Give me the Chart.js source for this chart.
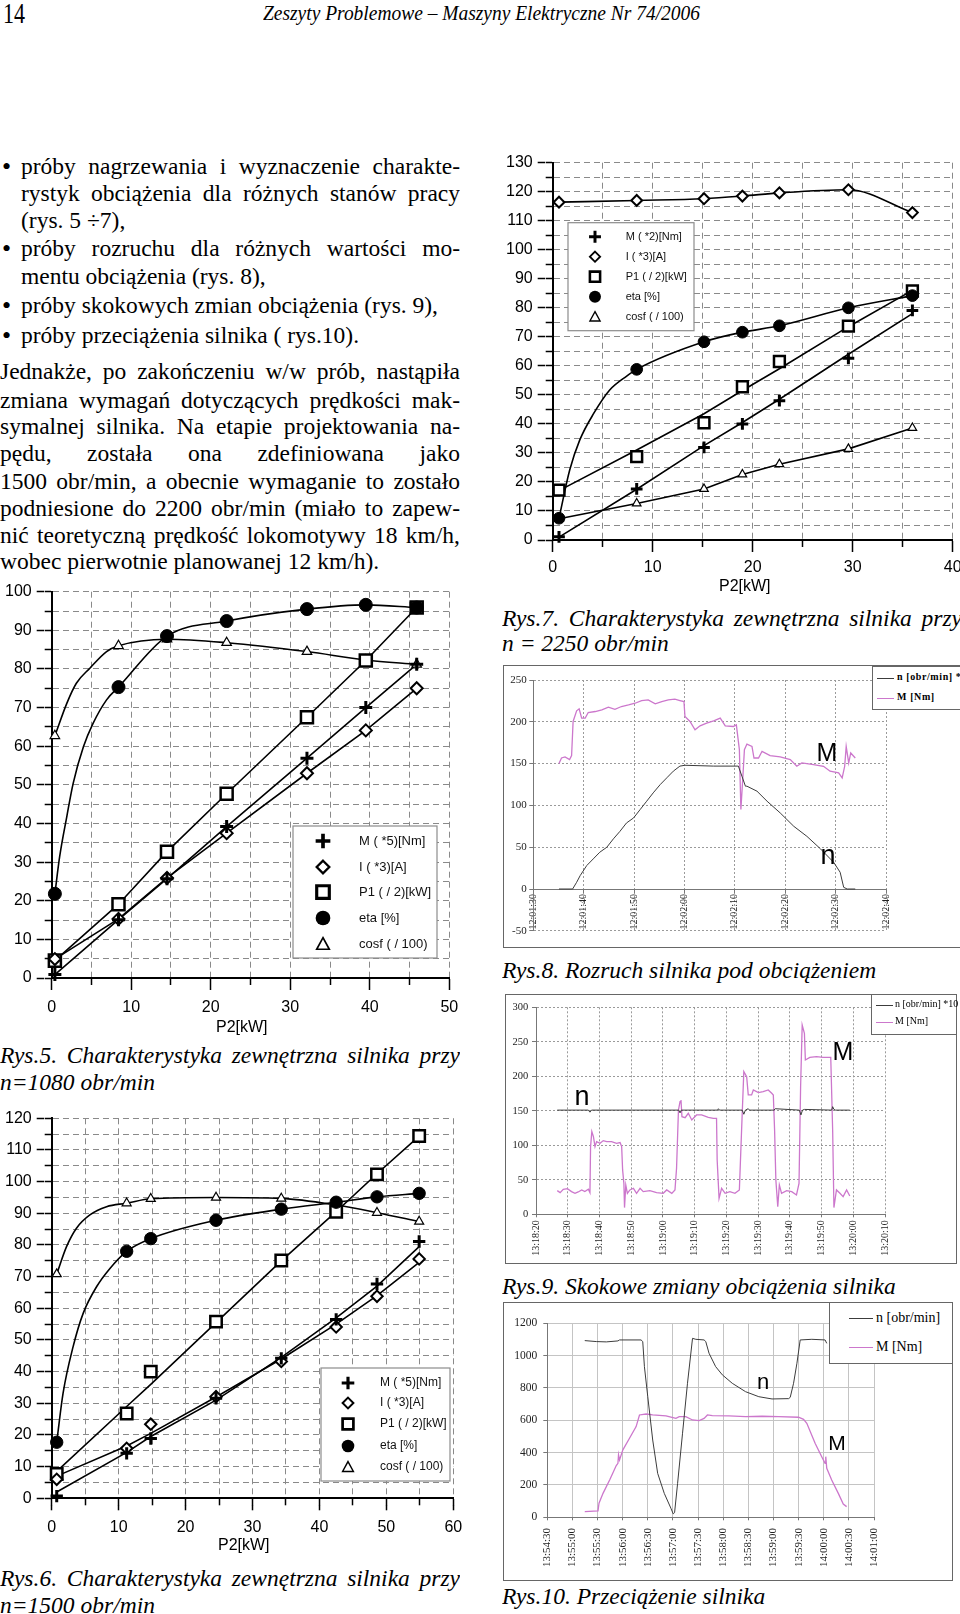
<!DOCTYPE html>
<html lang="pl">
<head>
<meta charset="utf-8">
<title>Charakterystyki silnika – Rys. 5–10</title>
<script src="https://cdn.jsdelivr.net/npm/chart.js@4.4.1/dist/chart.umd.min.js"></script>
<style>
  html, body { margin: 0; padding: 0; background: #fff; }
  body { position: relative; width: 960px; height: 1614px; overflow: hidden;
         font-family: 'Liberation Serif', 'Times New Roman', serif; color: #000; }
  .a { position: absolute; white-space: nowrap; transform-origin: left top; }
  .ln { position: absolute; font-size: 23.5px; line-height: 27px; height: 27px; overflow: hidden; }
  .j { text-align: justify; text-align-last: justify; }
  .cap { font-style: italic; }
  .bul { position: absolute; left: 2px; font-size: 26px; line-height: 27px; }
  .cv { position: absolute; }
  .frame { position: absolute; border: 1.5px solid #666; box-sizing: border-box; }
  .tleg { position: absolute; border: 1.5px solid #666; background: #fff; box-sizing: border-box; }
  .tleg div { position: absolute; white-space: nowrap; line-height: 1; }
  .tleg i { position: absolute; height: 1px; }
  .sans { font-family: 'Liberation Sans', Arial, sans-serif; }
  .mk { position: absolute; font-family: 'Liberation Sans', Arial, sans-serif; transform: translate(-50%, -50%); line-height: 1; }
</style>
</head>
<body>

<div class="a" data-w="22" style="left:3px;top:-3px;font-size:29px">14</div>
<div class="a cap" data-w="437" style="left:263px;top:1px;font-size:21px">Zeszyty Problemowe – Maszyny Elektryczne Nr 74/2006</div>

<!-- lewa kolumna: tekst -->
<div class="bul" style="top:153px">•</div>
<div class="ln j" style="top:153px;left:21px;width:439px">próby nagrzewania i wyznaczenie charakte-</div>
<div class="ln j" style="top:180px;left:21px;width:439px">rystyk obciążenia dla różnych stanów pracy</div>
<div class="ln" style="top:206.5px;left:21px;width:439px">(rys. 5 ÷7),</div>
<div class="bul" style="top:235px">•</div>
<div class="ln j" style="top:235px;left:21px;width:439px">próby rozruchu dla różnych wartości mo-</div>
<div class="ln" style="top:263px;left:21px;width:439px">mentu obciążenia (rys. 8),</div>
<div class="bul" style="top:291.5px">•</div>
<div class="ln" style="top:291.5px;left:21px;width:439px">próby skokowych zmian obciążenia (rys. 9),</div>
<div class="bul" style="top:321.5px">•</div>
<div class="ln" style="top:321.5px;left:21px;width:439px">próby przeciążenia silnika ( rys.10).</div>

<div class="ln j" style="top:358px;left:0;width:460px">Jednakże, po zakończeniu w/w prób, nastąpiła</div>
<div class="ln j" style="top:386.5px;left:0;width:460px">zmiana wymagań dotyczących prędkości mak-</div>
<div class="ln j" style="top:413px;left:0;width:460px">symalnej silnika. Na etapie projektowania na-</div>
<div class="ln j" style="top:440px;left:0;width:460px">pędu, została ona zdefiniowana jako</div>
<div class="ln j" style="top:468px;left:0;width:460px">1500 obr/min, a obecnie wymaganie to zostało</div>
<div class="ln j" style="top:495px;left:0;width:460px">podniesione do 2200 obr/min (miało to zapew-</div>
<div class="ln j" style="top:521.5px;left:0;width:460px">nić teoretyczną prędkość lokomotywy 18 km/h,</div>
<div class="ln" style="top:548px;left:0;width:460px">wobec pierwotnie planowanej 12 km/h).</div>

<!-- Rys.5 -->
<div class="cv" style="left:0;top:575px;width:470px;height:455px"><canvas id="rys5"></canvas></div>
<div class="a sans" style="left:216px;top:1018px;font-size:16px">P2[kW]</div>
<div class="ln cap j" style="top:1041.5px;left:0;width:460px">Rys.5. Charakterystyka zewnętrzna silnika przy</div>
<div class="ln cap" style="top:1069px;left:0;width:460px">n=1080 obr/min</div>

<!-- Rys.6 -->
<div class="cv" style="left:0;top:1100px;width:475px;height:440px"><canvas id="rys6"></canvas></div>
<div class="a sans" style="left:218px;top:1536px;font-size:16px">P2[kW]</div>
<div class="ln cap j" style="top:1564.5px;left:0;width:460px">Rys.6. Charakterystyka zewnętrzna silnika przy</div>
<div class="ln cap" style="top:1591.5px;left:0;width:460px">n=1500 obr/min</div>

<!-- Rys.7 -->
<div class="cv" style="left:500px;top:145px;width:475px;height:435px"><canvas id="rys7"></canvas></div>
<div class="a sans" style="left:719px;top:577px;font-size:16px">P2[kW]</div>
<div class="ln cap j" style="top:604.5px;left:502px;width:460px">Rys.7. Charakterystyka zewnętrzna silnika przy</div>
<div class="ln cap" style="top:629.5px;left:502px;width:460px">n = 2250 obr/min</div>

<!-- Rys.8 -->
<div class="frame" style="left:503px;top:665px;width:470px;height:283px"></div>
<div class="cv" style="left:505px;top:668px;width:400px;height:272px"><canvas id="rys8"></canvas></div>
<div class="tleg" style="left:872px;top:666px;width:100px;height:44px;font-size:10px;font-weight:bold;letter-spacing:0.6px">
  <i style="left:4px;top:11px;width:17px;background:#3c3c3c"></i><div style="left:24px;top:5px">n [obr/min] * 10</div>
  <i style="left:4px;top:31px;width:17px;background:#cc77cc"></i><div style="left:24px;top:25px">M [Nm]</div>
</div>
<div class="mk" style="left:827px;top:752px;font-size:25px">M</div>
<div class="mk" style="left:828px;top:855px;font-size:27px">n</div>
<div class="ln cap" style="top:956.5px;left:502px;width:458px">Rys.8. Rozruch silnika pod obciążeniem</div>

<!-- Rys.9 -->
<div class="frame" style="left:505px;top:994px;width:452px;height:270px"></div>
<div class="cv" style="left:507px;top:996px;width:395px;height:264px"><canvas id="rys9"></canvas></div>
<div class="tleg" style="left:871px;top:994px;width:86px;height:41px;font-size:10px">
  <i style="left:4px;top:10px;width:17px;background:#3c3c3c"></i><div style="left:23px;top:4px">n [obr/min] *10</div>
  <i style="left:4px;top:27px;width:17px;background:#cc77cc"></i><div style="left:23px;top:21px">M [Nm]</div>
</div>
<div class="mk" style="left:843px;top:1051px;font-size:25px">M</div>
<div class="mk" style="left:582px;top:1096px;font-size:27px">n</div>
<div class="ln cap" style="top:1273px;left:502px;width:458px">Rys.9. Skokowe zmiany obciążenia silnika</div>

<!-- Rys.10 -->
<div class="frame" style="left:503px;top:1302px;width:450px;height:279px"></div>
<div class="cv" style="left:505px;top:1310px;width:390px;height:265px"><canvas id="rys10"></canvas></div>
<div class="tleg" style="left:829px;top:1302px;width:124px;height:62px;font-size:14px">
  <i style="left:19px;top:15px;width:24px;background:#3c3c3c"></i><div style="left:46px;top:8px">n [obr/min]</div>
  <i style="left:19px;top:44px;width:24px;background:#cc77cc"></i><div style="left:46px;top:37px">M [Nm]</div>
</div>
<div class="mk" style="left:763px;top:1382px;font-size:22px">n</div>
<div class="mk" style="left:837px;top:1442px;font-size:21px">M</div>
<div class="ln cap" style="top:1583px;left:502px;width:458px">Rys.10. Przeciążenie silnika</div>

<script>
// ---- Rys.5 (n = 1080 obr/min) ----
const r5P2  = [0.4, 8.4, 14.5, 22.0, 32.1, 39.5, 45.9];
const r5M   = [0.9, 15.1, 25.7, 39.2, 56.9, 70.0, 81.2];
const r5I   = [4.9, 15.3, 25.9, 37.5, 53.0, 64.1, 75.0];
const r5P1  = [4.5, 19.1, 32.7, 47.7, 67.5, 82.2, 95.9];
const r5Eta = [21.8, 75.3, 88.5, 92.4, 95.5, 96.6, 95.9];
const r5Cos = [62.7, 86.0, 87.7, 86.8, 84.5, 82.3, 81.2];
// krzywe aproksymujace
const r5EtaFitX = [0.4, 1.0, 1.9, 2.7, 4.0, 5.2, 6.9, 8.4, 14.5, 22.0, 32.1, 39.5, 45.9];
const r5EtaFit  = [21.8, 31.4, 41.8, 50.4, 59.9, 65.9, 72.0, 75.3, 88.5, 92.4, 95.5, 96.6, 95.9];
const r5CosFitX = [0.4, 1.9, 3.1, 4.8, 6.9, 8.4, 14.5, 22.0, 32.1, 39.5, 45.9];
const r5CosFit  = [62.7, 71.1, 76.3, 80.2, 84.5, 86.0, 87.7, 86.8, 84.5, 82.3, 81.2];

// ---- Rys.6 (n = 1500 obr/min) ----
const r6P2    = [0.75, 11.2, 14.8, 24.55, 34.3, 42.5, 48.6, 54.9];
const r6M     = [0.7, 14.2, 18.9, 31.6, 44.2, 56.5, 67.7, 81.1];
const r6MFit  = [2.0, 14.5, 19.5, 31.0, 44.5, 57.0, 67.0, 79.5];
const r6I     = [6.0, 15.8, 23.4, 32.1, 43.2, 54.1, 63.8, 75.6];
const r6IFit  = [7.0, 16.5, 20.5, 32.0, 44.0, 55.0, 64.0, 74.5];
const r6P1    = [7.7, 26.8, 40.0, 55.8, 75.1, 90.5, 102.3, 114.4];
const r6P1Fit = [8.5, 29.0, 36.0, 55.5, 75.0, 90.5, 102.5, 114.4];
const r6Eta   = [17.7, 78.0, 82.0, 87.8, 91.3, 93.5, 95.2, 96.3];
const r6Cos   = [70.8, 93.2, 94.6, 95.0, 94.7, 92.6, 90.2, 87.4];
const r6EtaFitX = [0.75, 1.7, 3.2, 4.7, 6.7, 8.7, 11.2, 14.8, 24.55, 34.3, 42.5, 48.6, 54.9];
const r6EtaFit  = [17.7, 33.2, 47.9, 58.4, 66.8, 72.6, 78.0, 82.0, 87.8, 91.3, 93.5, 95.2, 96.3];
const r6CosFitX = [0.75, 2.2, 3.7, 5.7, 8.2, 11.2, 14.8, 24.55, 34.3, 42.5, 48.6, 54.9];
const r6CosFit  = [70.8, 79.4, 85.3, 89.5, 92.1, 93.2, 94.6, 95.0, 94.7, 92.6, 90.2, 87.4];

// ---- Rys.7 (n = 2250 obr/min) ----
const r7P2    = [0.63, 8.4, 15.13, 18.97, 22.67, 29.57, 35.97];
const r7M     = [1.1, 17.6, 31.9, 40.0, 48.0, 62.6, 79.1];
const r7MFit  = [1.0, 17.5, 32.5, 40.5, 48.5, 64.0, 78.0];
const r7I     = [116.4, 117.0, 117.6, 118.5, 119.6, 120.7, 112.8];
const r7P1    = [17.2, 28.7, 40.4, 52.8, 61.5, 73.7, 85.8];
const r7P1Fit = [17.0, 31.0, 43.5, 51.5, 59.0, 73.5, 86.0];
const r7Eta   = [7.5, 58.8, 68.3, 71.6, 73.8, 80.0, 84.2];
const r7Cos   = [7.3, 12.6, 17.6, 22.6, 26.1, 31.4, 38.6];
const r7EtaFitX = [0.63, 1.7, 2.7, 4.1, 5.7, 7.4, 8.4, 15.13, 18.97, 22.67, 29.57, 35.97];
const r7EtaFit  = [7.5, 24.1, 34.4, 43.6, 51.7, 56.5, 58.8, 68.3, 71.6, 73.8, 80.0, 84.2];

const legend56 = ['M ( *5)[Nm]', 'I ( *3)[A]', 'P1 ( / 2)[kW]', 'eta [%]', 'cosf ( / 100)'];
const legend7  = ['M ( *2)[Nm]', 'I ( *3)[A]', 'P1 ( / 2)[kW]', 'eta [%]', 'cosf ( / 100)'];
const markerStyles = ['cross', 'rectRot', 'rect', 'circle', 'triangle'];

// ---- Rys.8: czas w s od 12:01:30 ----
const r8Ticks = ['12:01:30', '12:01:40', '12:01:50', '12:02:00', '12:02:10', '12:02:20', '12:02:30', '12:02:40'];
const r8TN = [5.1, 7.8, 8.6, 9.3, 10.6, 11.9, 13.2, 14.6, 15.9, 17.2, 18.5, 19.9, 21.2, 22.5, 23.8, 25.2, 26.5, 27.8, 29.1, 30.1,
              35.8, 40.7, 41.4, 42.1, 42.4, 44.4, 46.4, 49.0, 51.7, 54.3, 57.0, 59.6, 60.9, 61.6, 62.3, 63.9];
const r8N  = [0, 0, 8, 16, 28, 36, 44, 50, 60, 69, 79, 85, 95, 105, 115, 125, 133, 141, 147, 148,
              147, 147, 135, 123, 123, 117, 105, 91, 75, 63, 48, 32, 20, 2, 0, 0];
const r8TM = [5.1, 5.6, 6.3, 7.2, 7.6, 7.9, 8.6, 9.1, 9.6, 10.3, 10.9, 12.3, 13.6, 14.9, 16.2, 17.5, 18.9, 20.2, 21.5, 22.8,
              24.2, 25.5, 26.8, 28.1, 29.1, 29.9, 30.1, 31.1, 32.1, 33.1, 34.4, 35.8, 37.1, 38.1, 39.7, 40.3, 40.5, 40.9, 41.2, 41.6,
              41.9, 42.4, 43.4, 43.8, 44.7, 45.4, 47.0, 49.0, 51.0, 52.3, 53.3, 55.6, 57.6, 58.9, 60.6, 61.3, 61.8, 62.1, 62.6, 63.0, 63.9];
const r8M  = [150, 156.7, 158, 154.8, 159.5, 200.4, 213.1, 215.5, 204.4, 204.4, 211.1, 212.3, 214.3, 217.5, 215, 218.3, 220.2, 222.2, 225.4, 226.2,
              221.4, 224.2, 226.2, 227, 225.4, 224.2, 206.3, 200.4, 190.5, 195.2, 198.4, 201.2, 204.4, 195.2, 194.4, 196.4, 186.5, 166.7, 95.2, 134.9,
              166.7, 173.4, 170.6, 156.7, 156.7, 164.7, 159.5, 158, 154.8, 146.8, 150.8, 148.8, 146.8, 140.9, 138.9, 132.9, 146.8, 170.6, 150.8, 162.7, 156.7];

// ---- Rys.9: czas w s od 13:18:20 ----
const r9Ticks = ['13:18:20', '13:18:30', '13:18:40', '13:18:50', '13:19:00', '13:19:10', '13:19:20', '13:19:30', '13:19:40', '13:19:50', '13:20:00', '13:20:10'];
const r9TN = [6.7, 16.5, 17.0, 17.5, 30, 45.0, 45.4, 45.8, 57.2, 57.5, 57.8, 65.0, 65.5, 66.0, 66.9, 67.3, 75.0, 75.4, 83.0, 83.5,
              84.0, 84.6, 93.2, 93.5, 93.9, 94.4, 98.9];
const r9N  = [151, 151, 148, 151, 151, 151, 147, 151, 151, 153, 151, 151, 145, 151, 153, 151, 151, 153, 151, 144,
              151, 152, 151, 156, 152, 151, 151];
const r9TM = [6.7, 7.6, 8.6, 9.9, 11.2, 12.3, 13.3, 14.4, 15.4, 16.5, 17.0, 17.2, 17.6, 18.1, 18.6, 19.1, 20.2, 21.2, 22.3, 23.8,
              25.4, 26.5, 27.0, 27.3, 27.7, 27.9, 28.3, 28.8, 29.6, 30.7, 31.7, 32.8, 33.8, 35.9, 38.0, 40.1, 41.2, 42.8, 43.8, 44.3,
              44.9, 45.4, 45.7, 46.0, 47.0, 48.0, 49.1, 50.6, 52.2, 54.3, 55.9, 56.9, 57.1, 57.7, 58.5, 59.6, 61.1, 62.7, 64.1, 64.8,
              65.5, 66.4, 66.9, 67.96, 68.5, 70.1, 71.6, 73.2, 74.3, 74.8, 75.2, 75.6, 76.2, 76.7, 77.4, 79.0, 80.6, 82.1, 82.9, 83.4,
              83.9, 84.6, 84.9, 86.3, 88.4, 90.5, 92.6, 92.9, 93.5, 93.9, 94.7, 95.8, 96.8, 97.9, 98.9];
const r9M  = [34.3, 31.4, 36.2, 37.2, 32.9, 30.4, 32.4, 35.3, 32.9, 36.2, 31.4, 98.1, 119.8, 112.6, 98.1, 105.3, 102.9, 106.8, 105.3, 105.3,
              102.9, 104, 98.1, 64.3, 44.9, 9.7, 42.5, 30.4, 35.3, 37.7, 30.4, 37.7, 32.9, 34.3, 31.4, 30.4, 35.3, 30.4, 35.3, 66.7,
              151.2, 163.3, 165.7, 141.5, 140.1, 146.4, 136.7, 144, 144, 140.6, 139.1, 139.1, 78.7, 23.2, 37.7, 30.4, 32.9, 30.4, 35.3, 122.2,
              206.8, 199.5, 173, 173, 180.2, 176.3, 177.8, 180.2, 175.4, 173, 122.2, 49.8, 11.1, 42.5, 30.4, 34.3, 32.9, 28, 44.9, 185,
              274.4, 262.3, 223.7, 227.5, 228.5, 227.5, 227.5, 227.5, 122.2, 9.7, 35.3, 30.4, 25.6, 35.3, 26.6];

// ---- Rys.10: czas w s od 13:54:30 ----
const r10Ticks = ['13:54:30', '13:55:00', '13:55:30', '13:56:00', '13:56:30', '13:57:00', '13:57:30', '13:58:00', '13:58:30', '13:59:00',
                  '13:59:30', '14:00:00', '14:00:30', '14:01:00'];
const r10TN = [44.7, 58.5, 70.4, 84.3, 86.2, 111.9, 113.9, 115.9, 119.9, 125.8, 131.7, 139.6, 147.5, 150.3, 151.9, 155.5, 161.4, 167.3, 173.3, 177.2,
               187.1, 189.1, 193.0, 200.9, 208.9, 220.7, 236.6, 252.4, 268.2, 288.0, 289.9, 293.9, 297.9, 301.8, 315.7, 331.5, 333.5];
const r10N  = [1093, 1087, 1085, 1091, 1097, 1097, 1087, 932, 746, 478, 272, 148, 56, 21, 29, 210, 520, 829, 1107, 1101,
               1097, 1087, 1015, 932, 881, 829, 777, 746, 732, 734, 742, 829, 953, 1097, 1101, 1097, 1076];
const r10TM = [44.7, 60.5, 61.7, 66.5, 74.4, 82.3, 84.3, 85.0, 86.2, 90.2, 98.1, 106.0, 110.0, 117.9, 125.8, 141.6, 153.5, 157.4, 165.3, 173.3,
               181.2, 187.1, 191.1, 197.0, 216.8, 236.6, 256.3, 276.1, 299.8, 305.8, 309.7, 319.6, 327.5, 331.5, 332.3, 333.5, 339.4, 347.3, 353.2, 357.2];
const r10M  = [35, 39, 87, 148, 231, 320, 334, 386, 355, 417, 489, 561, 633, 639, 633, 627, 612, 623, 623, 602,
               598, 612, 633, 629, 627, 623, 625, 623, 619, 606, 581, 458, 375, 334, 375, 303, 231, 148, 82, 66];

Chart.defaults.animation = false;
Chart.defaults.events = [];
Chart.defaults.responsive = true;
Chart.defaults.maintainAspectRatio = false;
Chart.defaults.devicePixelRatio = 1;
Chart.defaults.plugins.legend.display = false;
Chart.defaults.plugins.tooltip.enabled = false;
Chart.defaults.font.family = "'Liberation Sans', Arial, sans-serif";
Chart.defaults.color = '#000';

// symbole legendy rysowane recznie
function drawSymbol(ctx, style, x, y, k) {
  ctx.save();
  ctx.strokeStyle = '#000';
  ctx.fillStyle = '#000';
  ctx.beginPath();
  if (style === 'cross') {
    ctx.lineWidth = 3.5 * k;
    ctx.moveTo(x - 7 * k, y); ctx.lineTo(x + 7 * k, y);
    ctx.moveTo(x, y - 7 * k); ctx.lineTo(x, y + 7 * k);
    ctx.stroke();
  } else if (style === 'rectRot') {
    ctx.lineWidth = 2.2 * k;
    ctx.moveTo(x, y - 6 * k); ctx.lineTo(x + 6 * k, y); ctx.lineTo(x, y + 6 * k); ctx.lineTo(x - 6 * k, y);
    ctx.closePath(); ctx.fillStyle = '#fff'; ctx.fill(); ctx.stroke();
  } else if (style === 'rect') {
    ctx.lineWidth = 3 * k;
    ctx.rect(x - 6 * k, y - 6 * k, 12 * k, 12 * k);
    ctx.fillStyle = '#fff'; ctx.fill(); ctx.stroke();
  } else if (style === 'circle') {
    ctx.arc(x, y, 7 * k, 0, Math.PI * 2);
    ctx.fill();
  } else {
    ctx.lineWidth = 1.6 * k;
    ctx.moveTo(x, y - 6 * k); ctx.lineTo(x + 6 * k, y + 5 * k); ctx.lineTo(x - 6 * k, y + 5 * k);
    ctx.closePath(); ctx.fillStyle = '#fff'; ctx.fill(); ctx.stroke();
  }
  ctx.restore();
}

const boxLegend = {
  id: 'boxLegend',
  afterDraw(chart, args, o) {
    if (!o || !o.labels) return;
    const { ctx, chartArea: a } = chart;
    const b = o.box;
    ctx.save();
    ctx.fillStyle = '#fff';
    ctx.fillRect(a.left + b[0], a.top + b[1], b[2] - b[0], b[3] - b[1]);
    ctx.strokeStyle = '#8c8c8c';
    ctx.lineWidth = 1.2;
    ctx.strokeRect(a.left + b[0], a.top + b[1], b[2] - b[0], b[3] - b[1]);
    ctx.font = o.font;
    ctx.textBaseline = 'middle';
    ctx.textAlign = 'left';
    for (let i = 0; i < o.labels.length; i++) {
      const y = a.top + o.rows[i];
      drawSymbol(ctx, markerStyles[i], a.left + o.symX, y, o.k);
      ctx.fillStyle = '#111';
      ctx.fillText(o.labels[i], a.left + o.textX, y);
    }
    ctx.restore();
  }
};

function markerLook(style, k) {
  const m = {
    cross:    { pointRadius: 6.5, pointBorderWidth: 3,   pointBackgroundColor: '#000' },
    rectRot:  { pointRadius: 6,   pointBorderWidth: 2,   pointBackgroundColor: '#fff' },
    rect:     { pointRadius: 8.5, pointBorderWidth: 2.5, pointBackgroundColor: '#fff' },
    circle:   { pointRadius: 6.5, pointBorderWidth: 1,   pointBackgroundColor: '#000' },
    triangle: { pointRadius: 5.5, pointBorderWidth: 1.2, pointBackgroundColor: '#fff' }
  }[style];
  return { pointStyle: style, pointRadius: m.pointRadius * k, pointBorderWidth: m.pointBorderWidth,
           pointBackgroundColor: m.pointBackgroundColor, pointBorderColor: '#000' };
}

function xyScales(o) {
  const tickFont = { family: "'Liberation Sans', Arial, sans-serif", size: 16 };
  const inner = (max) => ({
    type: 'linear', min: 0, max: max, weight: 0,
    ticks: { stepSize: 5, display: false },
    grid: { color: '#8a8a8a', lineWidth: 1, tickLength: 7, tickColor: '#000', tickWidth: 1.5, tickBorderDash: [] },
    border: { color: '#000', width: 2, dash: [6, 4] }
  });
  const outer = (max, pad) => ({
    type: 'linear', min: 0, max: max, weight: 1,
    ticks: { stepSize: 10, padding: pad, font: tickFont, color: '#000' },
    grid: { drawOnChartArea: false, tickLength: 7, tickColor: '#000', tickWidth: 1.5, tickBorderDash: [] },
    border: { display: false }
  });
  const x = Object.assign(inner(o.xMax), { position: 'bottom', afterFit: s => { s.height = 7; } });
  const y = Object.assign(inner(o.yMax), { position: 'left', afterFit: s => { s.width = 8; } });
  const xl = Object.assign(outer(o.xMax, o.xPad), { axis: 'x', position: 'bottom', afterFit: s => { s.height = o.xOuter; } });
  xl.grid.tickLength = 5;
  const yl = Object.assign(outer(o.yMax, 5), { axis: 'y', position: 'left', afterFit: s => { s.width = o.yOuter; } });
  return { x, y, xl, yl };
}

function makeXY(id, o) {
  const datasets = [];
  o.series.forEach((s, k) => {
    const style = markerStyles[k];
    const fit = s.fit || s.y;
    const fx = s.fitX || o.x;
    datasets.push({
      data: fx.map((x, i) => ({ x: x, y: fit[i] })),
      borderColor: '#000', borderWidth: 1.6, pointRadius: 0, tension: 0,
      cubicInterpolationMode: s.smooth ? 'monotone' : 'default', order: 3
    });
    datasets.push(Object.assign({
      data: o.x.map((x, i) => ({ x: x, y: s.y[i] })),
      showLine: false, clip: false, order: style === 'circle' ? 0 : 1
    }, markerLook(style, o.k)));
  });
  new Chart(document.getElementById(id), {
    type: 'line',
    data: { datasets },
    options: {
      layout: { padding: o.pad },
      scales: xyScales(o),
      plugins: { boxLegend: o.legend }
    },
    plugins: [boxLegend]
  });
}

function makeTime(id, o) {
  const serif = "'Liberation Serif', 'Times New Roman', serif";
  new Chart(document.getElementById(id), {
    type: 'line',
    data: {
      datasets: [
        { data: o.nT.map((t, i) => ({ x: t, y: o.n[i] })), borderColor: '#3c3c3c', borderWidth: 1, pointRadius: 0, tension: 0 },
        { data: o.mT.map((t, i) => ({ x: t, y: o.m[i] })), borderColor: '#cc77cc', borderWidth: 1.3, pointRadius: 0, tension: 0 }
      ]
    },
    options: {
      layout: { padding: o.pad },
      scales: {
        x: {
          type: 'linear', min: 0, max: o.xMax, position: o.xAtZero ? { y: 0 } : 'bottom',
          ticks: { stepSize: o.xStep, autoSkip: false, minRotation: 90, maxRotation: 90, padding: o.xLabPad,
                   color: '#222', font: { family: serif, size: o.xfs }, callback: (v, i) => o.ticks[i] },
          grid: { color: o.gridColor, tickColor: '#777', tickLength: 3, tickBorderDash: [] },
          border: { color: '#777', width: 1, dash: o.dash },
          afterFit: s => { if (!o.xAtZero) s.height = o.xH; }
        },
        y: {
          min: o.yMin, max: o.yMax,
          ticks: { stepSize: o.yStep, padding: o.yLabPad, color: '#222', font: { family: serif, size: o.yfs },
                   callback: v => String(v) },
          grid: { color: o.gridColor, tickColor: '#777', tickLength: 4, tickBorderDash: [] },
          border: { color: '#777', width: 1, dash: o.dash },
          afterFit: s => { s.width = o.yW; }
        }
      }
    }
  });
}

makeXY('rys5', {
  x: r5P2, xMax: 50, yMax: 100, k: 1,
  pad: { top: 16.7, right: 20.7, left: 0, bottom: 0 }, yOuter: 43.7, xOuter: 45, xPad: 8,
  series: [
    { y: r5M }, { y: r5I }, { y: r5P1 },
    { y: r5Eta, fitX: r5EtaFitX, fit: r5EtaFit, smooth: true },
    { y: r5Cos, fitX: r5CosFitX, fit: r5CosFit, smooth: true }
  ],
  legend: { labels: legend56, box: [241.3, 234.3, 385.3, 366.3], symX: 271.3, textX: 307.3,
            rows: [249.3, 275.3, 300.3, 326.3, 352.3], font: "13px 'Liberation Sans', Arial, sans-serif", k: 1.05 }
});

makeXY('rys6', {
  x: r6P2, xMax: 60, yMax: 120, k: 0.95,
  pad: { top: 18.3, right: 21.7, left: 0, bottom: 0 }, yOuter: 43.7, xOuter: 34.7, xPad: 8,
  series: [
    { y: r6M, fit: r6MFit }, { y: r6I, fit: r6IFit }, { y: r6P1, fit: r6P1Fit },
    { y: r6Eta, fitX: r6EtaFitX, fit: r6EtaFit, smooth: true },
    { y: r6Cos, fitX: r6CosFitX, fit: r6CosFit, smooth: true }
  ],
  legend: { labels: legend56, box: [269.3, 249.7, 398.3, 362.7], symX: 296.3, textX: 328.3,
            rows: [264.7, 284.7, 305.7, 327.7, 348.7], font: "12px 'Liberation Sans', Arial, sans-serif", k: 0.9 }
});

makeXY('rys7', {
  x: r7P2, xMax: 40, yMax: 130, k: 0.9,
  pad: { top: 17.7, right: 22.3, left: 0, bottom: 0 }, yOuter: 44.7, xOuter: 33, xPad: 6,
  series: [
    { y: r7M, fit: r7MFit }, { y: r7I, smooth: true }, { y: r7P1, fit: r7P1Fit },
    { y: r7Eta, fitX: r7EtaFitX, fit: r7EtaFit, smooth: true }, { y: r7Cos }
  ],
  legend: { labels: legend7, box: [15.3, 60, 141.3, 168], symX: 42.3, textX: 73,
            rows: [74, 94, 114, 134, 154], font: "11px 'Liberation Sans', Arial, sans-serif", k: 0.85 }
});

makeTime('rys8', {
  nT: r8TN, n: r8N, mT: r8TM, m: r8M, ticks: r8Ticks,
  xMax: 70, xStep: 10, yMin: -50, yMax: 250, yStep: 50, xAtZero: true,
  pad: { top: 12, right: 19, left: 0, bottom: 8.3 }, yW: 28.3, xH: 0,
  xLabPad: 2, yLabPad: 2.6, xfs: 10, yfs: 11, gridColor: '#9a9a9a', dash: [2, 2]
});

makeTime('rys9', {
  nT: r9TN, n: r9N, mT: r9TM, m: r9M, ticks: r9Ticks,
  xMax: 110, xStep: 10, yMin: 0, yMax: 300, yStep: 50, xAtZero: false,
  pad: { top: 11.3, right: 17, left: 0, bottom: 0 }, yW: 29, xH: 45.7,
  xLabPad: 3, yLabPad: 3.7, xfs: 10, yfs: 10.5, gridColor: '#9a9a9a', dash: [2, 2]
});

makeTime('rys10', {
  nT: r10TN, n: r10N, mT: r10TM, m: r10M, ticks: r10Ticks,
  xMax: 390, xStep: 30, yMin: 0, yMax: 1200, yStep: 200, xAtZero: false,
  pad: { top: 13.3, right: 19, left: 0, bottom: 0 }, yW: 42.3, xH: 57.7,
  xLabPad: 7.7, yLabPad: 6, xfs: 11, yfs: 11.5, gridColor: '#c4c4c4', dash: []
});

// dopasowanie szerokosci naglowka
document.querySelectorAll('[data-w]').forEach(el => {
  const w = el.getBoundingClientRect().width;
  el.style.transform = 'scaleX(' + (parseFloat(el.dataset.w) / w) + ')';
});
</script>
</body>
</html>
